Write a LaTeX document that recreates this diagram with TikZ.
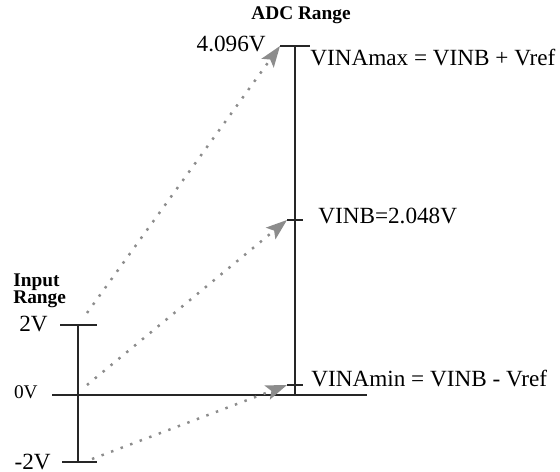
\documentclass[tikz,border=0pt]{standalone}
\usepackage{fontspec}
\setmainfont{Liberation Serif}
\usetikzlibrary{arrows.meta,positioning}
\tikzset{
    axisline/.style={line width=1.1pt, black!85},
    tickline/.style={line width=1.2pt, black!85},
    mapline/.style={gray!90, line width=1.4pt, dash pattern=on 1.4pt off 4.4pt, -{Stealth[length=12pt,width=8.5pt,inset=2.5pt]}},
    vlabel/.style={font=\fontsize{13.2}{15}\selectfont, inner sep=0pt},
    zlabel/.style={font=\fontsize{11}{12}\selectfont, inner sep=0pt},
    rangetitle/.style={font=\fontsize{11}{10}\selectfont\bfseries, align=left, inner sep=0pt},
}
\begin{document}
\begin{tikzpicture}[x=0.02cm, y=-0.02cm]
    \useasboundingbox (0,0) rectangle (560,472);
    % titles
    \node[rangetitle] (adc) at (301,15) {ADC Range};
    \node[rangetitle, anchor=north west] (inp) at (13,273) {Input\\Range};
    % input range
    \coordinate (intop) at (78,325);
    \coordinate (inbot) at (78,462);
    \coordinate (intopl) at (60,325);
    \coordinate (intopr) at (97,325);
    \coordinate (inbotl) at (62,462);
    \coordinate (inbotr) at (97,462);
    \draw[axisline] (intop) -- (inbot);
    \draw[tickline] (intopl) -- (intopr);
    \draw[tickline] (inbotl) -- (inbotr);
    \node[vlabel, anchor=base east] (l2v) at (48,331) {2V};
    \node[vlabel, anchor=base east] (lm2v) at (51,469) {-2V};
    % zero line
    \coordinate (zl) at (52,395);
    \coordinate (zr) at (367,395);
    \draw[axisline] (zl) -- (zr);
    \node[zlabel, anchor=base east] (l0v) at (38,398) {0V};
    % adc range
    \coordinate (adctop) at (295,46);
    \coordinate (adcbot) at (295,395);
    \coordinate (maxl) at (280,46);
    \coordinate (maxr) at (310,46);
    \coordinate (midl) at (287,220);
    \coordinate (midr) at (303,220);
    \coordinate (minl) at (287,385);
    \coordinate (minr) at (303,385);
    \draw[axisline] (adctop) -- (adcbot);
    \draw[tickline] (maxl) -- (maxr);
    \draw[tickline] (midl) -- (midr);
    \draw[tickline] (minl) -- (minr);
    \node[vlabel, anchor=base east] (l4v) at (266,52) {4.096V};
    \node[vlabel, anchor=base west] (lmax) at (310,66) {VINAmax = VINB + Vref};
    \node[vlabel, anchor=base west] (lmid) at (318,224) {VINB=2.048V};
    \node[vlabel, anchor=base west] (lmin) at (311,386) {VINAmin = VINB - Vref};
    % mapping
    \coordinate (s2v) at (87,313);
    \coordinate (s0v) at (87,385);
    \coordinate (sm2v) at (92,459);
    \draw[mapline] (s2v) -- (maxl);
    \draw[mapline] (s0v) -- (midl);
    \draw[mapline] (sm2v) -- (minl);
\end{tikzpicture}
\end{document}
